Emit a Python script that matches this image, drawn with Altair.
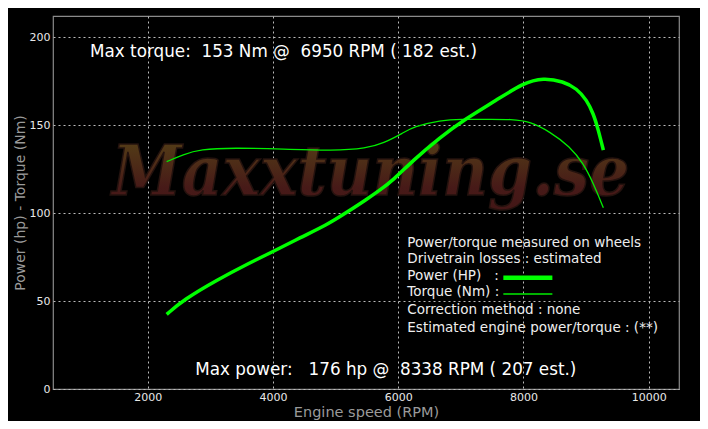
import altair as alt
import pandas as pd

# Power curve (hp)
power_rpm = [2303, 2569, 3102, 3634, 3996, 4432, 4859, 5178, 5497, 5710, 5922, 6242, 6668, 7040, 7573, 7998, 8318, 8637, 8851, 9011, 9116, 9196, 9276]
power_hp = [42.4, 50.6, 61.9, 71.8, 78.0, 86.0, 93.2, 100.4, 107.8, 113.1, 118.8, 130.1, 143.0, 152.8, 164.2, 174.0, 176.9, 174.8, 170.8, 164.2, 156.6, 147.2, 135.8]

# Torque curve (Nm)
torque_rpm = [2303, 2569, 2835, 3367, 4166, 4964, 5497, 5763, 6082, 6242, 6668, 7040, 7307, 7839, 8105, 8425, 8744, 8957, 9116, 9276]
torque_nm = [129.2, 133.3, 136.2, 137.1, 136.4, 135.4, 136.8, 139.6, 145.6, 149.0, 152.8, 153.4, 153.2, 153.4, 151.9, 146.2, 137.7, 128.2, 116.9, 103.0]

x_ticks = [2000, 4000, 6000, 8000, 10000]
y_ticks = [0, 50, 100, 150, 200]

NB = "\u00a0"
headline_text = ["Max torque:" + NB * 2 + "153 Nm @" + NB * 2 + "6950 RPM ( 182 est.)",
                 "Max power:" + NB * 3 + "176 hp @" + NB * 2 + "8338 RPM ( 207 est.)"]
headline_x = [1080, 2760]
headline_y = [191.5, 10.8]

legend_lines = ["Power/torque measured on wheels", "Drivetrain losses : estimated",
                "Power (HP)" + NB * 3 + ":", "Torque (Nm) :", "Correction method : none",
                "Estimated engine power/torque : (**)"]
legend_y = [82.8, 73.7, 64.2, 54.9, 44.9, 34.8]
legend_x = 6146

swatch_x = [7679, 8462]
swatch_y = [63.2, 54.0]

xdom = [488, 10484]
ydom = [0, 212]

X = alt.X("x:Q", scale=alt.Scale(domain=xdom, nice=False, zero=False), title="Engine speed (RPM)",
          axis=alt.Axis(values=x_ticks, format="d", grid=True, gridColor="#bbbbbb", gridDash=[2, 3], gridWidth=1,
                        domain=False, ticks=False, labelColor="#e8e8e8", labelFontSize=11, labelFont="DejaVu Sans",
                        labelPadding=2, titleColor="#9a9a9a", titleFont="DejaVu Sans", titleFontSize=14.5,
                        titleFontWeight="normal", titlePadding=3))
Y = alt.Y("y:Q", scale=alt.Scale(domain=ydom, nice=False), title="Power (hp)  - Torque (Nm)",
          axis=alt.Axis(values=y_ticks, grid=True, gridColor="#bbbbbb", gridDash=[2, 3], gridWidth=1,
                        domain=False, ticks=False, labelColor="#e8e8e8", labelFontSize=11, labelFont="DejaVu Sans",
                        labelPadding=3, titleColor="#9a9a9a", titleFont="DejaVu Sans", titleFontSize=14,
                        titleFontWeight="normal", titleX=-33, titleAnchor="middle", titleBaseline="middle"))

power_df = pd.DataFrame({"x": power_rpm, "y": power_hp})
torque_df = pd.DataFrame({"x": torque_rpm, "y": torque_nm})

wm = alt.Chart(pd.DataFrame({"x": [5560], "y": [110], "t": ["Maxxtuning.se"]})).mark_text(
    font="DejaVu Serif Condensed", fontSize=70, fontWeight="bold", fontStyle="italic", align="center",
    baseline="alphabetic", stroke="#24120e", strokeWidth=1.5,
    color=alt.Gradient(gradient="linear", x1=0, y1=0, x2=0, y2=1,
                       stops=[alt.GradientStop(color="#564516", offset=0), alt.GradientStop(color="#471a18", offset=0.7),
                              alt.GradientStop(color="#421616", offset=1)])
).encode(x=X, y=Y, text="t:N")

base = alt.Chart(power_df).mark_line(color="#00ff00", strokeWidth=3.5, interpolate="basis").encode(x=X, y=Y)
torque = alt.Chart(torque_df).mark_line(color="#00ee00", strokeWidth=1.3, interpolate="basis").encode(x=X, y=Y)

head = alt.Chart(pd.DataFrame({"x": headline_x, "y": headline_y, "t": headline_text})).mark_text(
    align="left", baseline="middle", font="DejaVu Sans", fontSize=16.8, color="#ffffff"
).encode(x=X, y=Y, text="t:N")

leg = alt.Chart(pd.DataFrame({"x": [legend_x] * len(legend_lines), "y": legend_y, "t": legend_lines})).mark_text(
    align="left", baseline="middle", font="DejaVu Sans", fontSize=13.5, color="#eeeeee"
).encode(x=X, y=Y, text="t:N")

sw_df = pd.DataFrame({"x": [swatch_x[0]] * 2, "x2": [swatch_x[1]] * 2, "y": swatch_y})
sw1 = alt.Chart(sw_df.iloc[[0]]).mark_rule(color="#00ff00", strokeWidth=4.5).encode(x=X, x2="x2:Q", y=Y)
sw2 = alt.Chart(sw_df.iloc[[1]]).mark_rule(color="#00ee00", strokeWidth=1.5).encode(x=X, x2="x2:Q", y=Y)

chart = alt.layer(wm, torque, base, head, leg, sw1, sw2).properties(
    width=626, height=373,
    autosize=alt.AutoSizeParams(type="none"),
    padding={"left": 45, "top": 8, "right": 21, "bottom": 32},
    background="#000000",
).configure_view(stroke="#8a8a8a", strokeWidth=1.2)

chart.save("out.html", embed_options={"renderer": "svg", "actions": False})
